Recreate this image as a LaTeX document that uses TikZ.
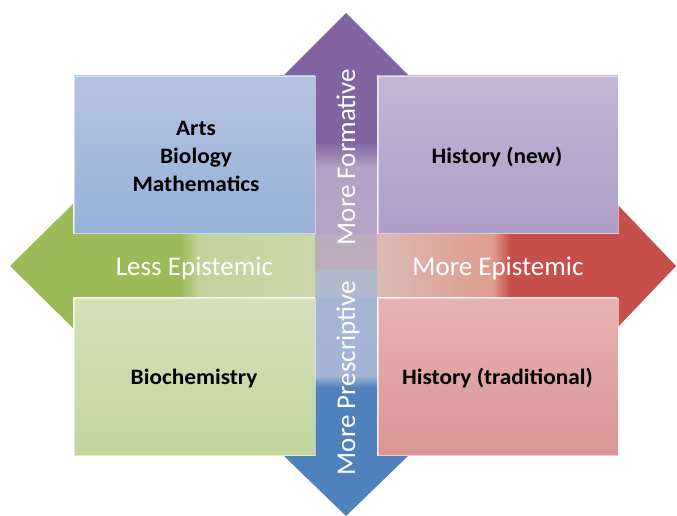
\documentclass[tikz,border=0pt]{standalone}
\usepackage{fontspec}
\setmainfont{Carlito}
\newfontfamily\boxfont[FakeStretch=1.06]{Carlito}
\definecolor{gfull}{HTML}{9BBB59}
\definecolor{gmid}{HTML}{C3D39E}
\definecolor{gpale}{HTML}{CDD8AC}
\definecolor{rfull}{HTML}{C74F4B}
\definecolor{rmid}{HTML}{DE9C8F}
\definecolor{rpale}{HTML}{DCBAB2}
\definecolor{pfull}{HTML}{8064A2}
\definecolor{pmid}{HTML}{B4A0C4}
\definecolor{ppale}{HTML}{BBA9C7}
\definecolor{bfull}{HTML}{4F81BD}
\definecolor{bmid}{HTML}{A3B4D6}
\definecolor{bpale}{HTML}{A8B7D6}
\pgfdeclarehorizontalshading{gfade}{100bp}{color(0bp)=(gfull); color(50.3bp)=(gfull); color(53.3bp)=(gmid); color(75bp)=(gpale); color(100bp)=(gpale)}
\pgfdeclarehorizontalshading{rfade}{100bp}{color(0bp)=(rpale); color(29.9bp)=(rpale); color(47.3bp)=(rmid); color(49.8bp)=(rfull); color(100bp)=(rfull)}
\pgfdeclareverticalshading{pfade}{100bp}{color(0bp)=(ppale); color(45bp)=(pmid); color(49.9bp)=(pfull); color(100bp)=(pfull)}
\pgfdeclareverticalshading{bfade}{100bp}{color(0bp)=(bfull); color(51bp)=(bfull); color(53.5bp)=(bmid); color(100bp)=(bpale)}
\tikzset{
  quad/.style={draw=white, draw opacity=0.5, line width=0.8pt},
  boxtext/.style={font=\boxfont\fontsize{22}{28}\selectfont\bfseries, text=black, align=center, inner sep=0pt},
  arrowtext/.style={font=\fontsize{27}{32}\selectfont, text=white, inner sep=0pt},
}
\begin{document}
\begin{tikzpicture}[x=1pt,y=-1pt]
\useasboundingbox (0,0) rectangle (677,516);
% horizontal arrows
\shade[shading=gfade] (10,266) -- (73,204) -- (73,234) -- (346,234) -- (346,297) -- (73,297) -- (73,328) -- cycle;
\shade[shading=rfade] (676,266) -- (617,204) -- (617,234) -- (346,234) -- (346,297) -- (617,297) -- (617,328) -- cycle;
% vertical arrows
\shade[shading=pfade] (346,13) -- (408,75) -- (377,75) -- (377,270) -- (315,270) -- (315,75) -- (284,75) -- cycle;
\shade[shading=bfade] (346,516) -- (408,456) -- (377,456) -- (377,270) -- (315,270) -- (315,456) -- (284,456) -- cycle;
% blend of the crossing
\fill[gpale!50!rpale, opacity=0.25] (315,234) rectangle (377,297);
% quadrant boxes
\shade[quad, top color={rgb,255:red,180;green,196;blue,224}, bottom color={rgb,255:red,151;green,177;blue,216}] (74,76) rectangle (315,233);
\shade[quad, top color={rgb,255:red,195;green,183;blue,212}, bottom color={rgb,255:red,175;green,157;blue,198}] (378,76) rectangle (618,233);
\shade[quad, top color={rgb,255:red,212;green,225;blue,186}, bottom color={rgb,255:red,195;green,214;blue,156}] (74,298) rectangle (315,455);
\shade[quad, top color={rgb,255:red,230;green,179;blue,178}, bottom color={rgb,255:red,217;green,149;blue,148}] (378,298) rectangle (618,455);
% box texts
\node[boxtext] (tl) at (196,156.5) {Arts\\Biology\\Mathematics};
\node[boxtext, anchor=base] (tr) at (497,163) {History (new)};
\node[boxtext, anchor=base] (bl) at (194,384) {Biochemistry};
\node[boxtext, anchor=base] (br) at (497.5,384) {History (traditional)};
% arrow labels
\node[arrowtext, anchor=base] (le) at (194.5,275) {Less Epistemic};
\node[arrowtext, anchor=base] (me) at (498,275) {More Epistemic};
\node[arrowtext, anchor=base, rotate=90] (mf) at (355,157) {More Formative};
\node[arrowtext, anchor=base, rotate=90] (mp) at (355,378) {More Prescriptive};
\end{tikzpicture}
\end{document}
